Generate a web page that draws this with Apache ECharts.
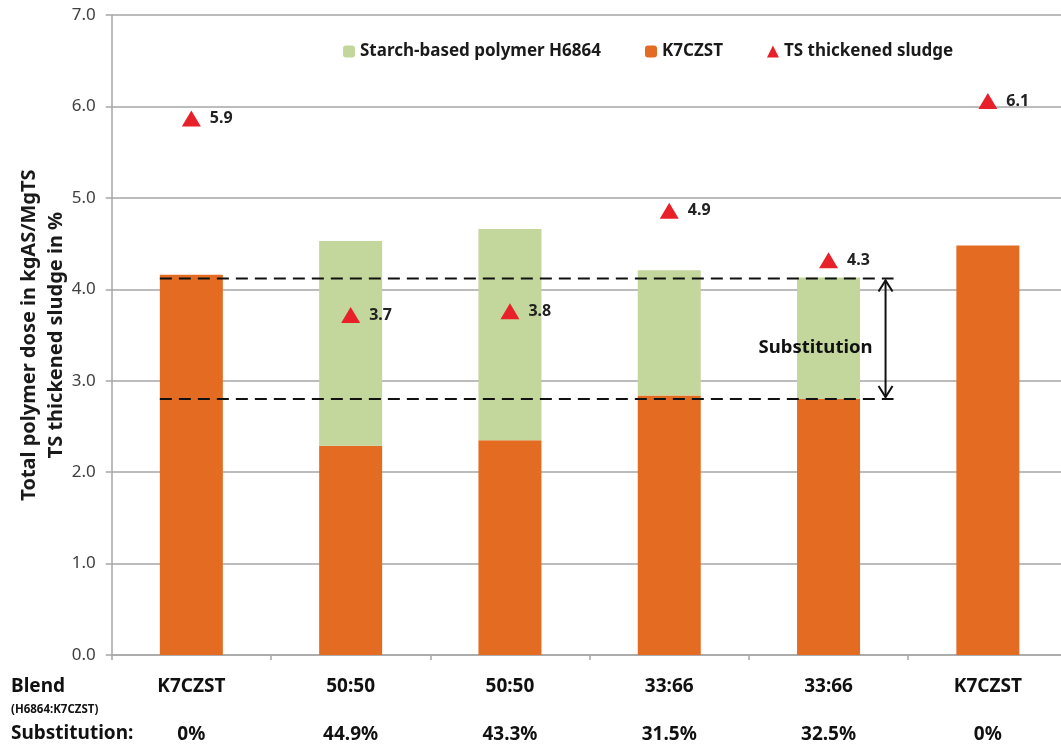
<!DOCTYPE html>
<html><head><meta charset="utf-8">
<script src="https://cdn.jsdelivr.net/npm/echarts@6/dist/echarts.min.js"></script>
<style>html,body{margin:0;padding:0;background:#fff}#c{width:1061px;height:749px}</style>
</head><body><div id="c"></div>
<script>
const categories = ['K7CZST', '50:50', '50:50', '33:66', '33:66', 'K7CZST'];
const substitution = ['0%', '44.9%', '43.3%', '31.5%', '32.5%', '0%'];
const k7czst = [4.16, 2.29, 2.35, 2.84, 2.80, 4.48];
const starch = [0, 2.24, 2.31, 1.37, 1.33, 0];
const tsSludge = [5.87, 3.72, 3.76, 4.86, 4.32, 6.06];
const yTicks = { min: 0, max: 7, interval: 1 };
const substitutionLines = { upper: 4.12, lower: 2.80, label: 'Substitution' };
const leftLabels = { blend: 'Blend', blendSub: '(H6864:K7CZST)', subst: 'Substitution:' };

const FONT = 'Noto Sans';
const chart = echarts.init(document.getElementById('c'));
const BAR_W = 63;
chart.setOption({
  animation: false,
  textStyle: { fontFamily: FONT },
  grid: { left: 111.7, right: -6.5, top: 15.2, bottom: 94, containLabel: false, outerBoundsMode: 'none' },
  legend: {
    data: ['Starch-based polymer H6864', 'K7CZST', 'TS thickened sludge'],
    left: 338, top: 38, itemWidth: 12, itemHeight: 12, itemGap: 44,
    textStyle: { fontFamily: FONT, fontSize: 17, fontWeight: 'bold', color: '#1a1a1a' }
  },
  xAxis: {
    type: 'category', data: categories,
    axisLine: { lineStyle: { color: '#a6a6a6', width: 1.5 } },
    axisTick: { show: true, length: 5, lineStyle: { color: '#a6a6a6', width: 1.5 } },
    axisLabel: {
      margin: 20,
      formatter: (v, i) => `{a|${v}}\n{g| }\n{b|${substitution[i]}}`,
      rich: {
        a: { fontFamily: FONT, fontSize: 19, fontWeight: 'bold', color: '#111', lineHeight: 24 },
        g: { fontSize: 10, lineHeight: 24 },
        b: { fontFamily: FONT, fontSize: 19, fontWeight: 'bold', color: '#111', lineHeight: 24 }
      }
    }
  },
  yAxis: {
    type: 'value', min: yTicks.min, max: yTicks.max, interval: yTicks.interval,
    name: 'Total polymer dose in kgAS/MgTS\nTS thickened sludge in %',
    nameLocation: 'middle', nameGap: 42, nameMoveOverlap: false,
    nameTextStyle: { fontFamily: FONT, fontSize: 20, fontWeight: 'bold', color: '#1a1a1a', lineHeight: 27 },
    axisLine: { show: true, lineStyle: { color: '#a6a6a6', width: 1.5 } },
    axisTick: { show: true, length: 6, lineStyle: { color: '#a6a6a6', width: 1.5 } },
    axisLabel: { margin: 16, fontSize: 17, color: '#404040', formatter: v => v.toFixed(1) },
    splitLine: { lineStyle: { color: '#a6a6a6', width: 1.5 } }
  },
  series: [
    { name: 'K7CZST', type: 'bar', stack: 'dose', data: k7czst, barWidth: BAR_W,
      itemStyle: { color: '#E46C22' } },
    { name: 'Starch-based polymer H6864', type: 'bar', stack: 'dose', data: starch, barWidth: BAR_W,
      itemStyle: { color: '#C3D69B' } },
    { name: 'TS thickened sludge', type: 'scatter', data: tsSludge, symbol: 'triangle',
      symbolSize: [19, 16], itemStyle: { color: '#E8202A', opacity: 1 }, z: 5,
      label: { show: true, position: 'right', distance: 9, formatter: p => p.value.toFixed(1),
        fontFamily: FONT, fontSize: 16, fontWeight: 'bold', color: '#222' } }
  ]
});

function drawAnnotations() {
  const p0u = chart.convertToPixel({ xAxisIndex: 0, yAxisIndex: 0 }, [0, substitutionLines.upper]);
  const p0l = chart.convertToPixel({ xAxisIndex: 0, yAxisIndex: 0 }, [0, substitutionLines.lower]);
  const p4 = chart.convertToPixel({ xAxisIndex: 0, yAxisIndex: 0 }, [4, substitutionLines.lower]);
  const xs = p0u[0] - BAR_W / 2;
  const arrowX = p4[0] + 57;
  const xe = arrowX + 8;
  const yu = p0u[1], yl = p0l[1];
  const dash = { stroke: '#111', lineWidth: 2, lineDash: [12, 7] };
  const solid = { stroke: '#111', lineWidth: 2, fill: null };
  const blendRow = chart.convertToPixel({ yAxisIndex: 0 }, 0);
  chart.setOption({
    graphic: [
      { type: 'line', z: 100, shape: { x1: xs, y1: yu, x2: xe, y2: yu }, style: dash },
      { type: 'line', z: 100, shape: { x1: xs, y1: yl, x2: xe, y2: yl }, style: dash },
      { type: 'line', z: 100, shape: { x1: arrowX, y1: yu + 2, x2: arrowX, y2: yl - 2 }, style: solid },
      { type: 'polyline', z: 100, shape: { points: [[arrowX - 7, yu + 13], [arrowX, yu + 2], [arrowX + 7, yu + 13]] }, style: solid },
      { type: 'polyline', z: 100, shape: { points: [[arrowX - 7, yl - 13], [arrowX, yl - 2], [arrowX + 7, yl - 13]] }, style: solid },
      { type: 'text', z: 100, x: arrowX - 70, y: (yu + yl) / 2 + 9,
        style: { text: substitutionLines.label, fontFamily: FONT, fontSize: 18.5, fontWeight: 'bold', fill: '#111', align: 'center', verticalAlign: 'middle' } },
      { type: 'text', x: 11, y: blendRow + 32,
        style: { text: leftLabels.blend, fontFamily: FONT, fontSize: 19, fontWeight: 'bold', fill: '#111', verticalAlign: 'middle' } },
      { type: 'text', x: 11, y: blendRow + 55,
        style: { text: leftLabels.blendSub, fontFamily: FONT, fontSize: 11.5, fontWeight: 'bold', fill: '#111', verticalAlign: 'middle' } },
      { type: 'text', x: 11, y: blendRow + 79,
        style: { text: leftLabels.subst, fontFamily: FONT, fontSize: 19, fontWeight: 'bold', fill: '#111', verticalAlign: 'middle' } }
    ]
  });
}
drawAnnotations();
</script></body></html>
